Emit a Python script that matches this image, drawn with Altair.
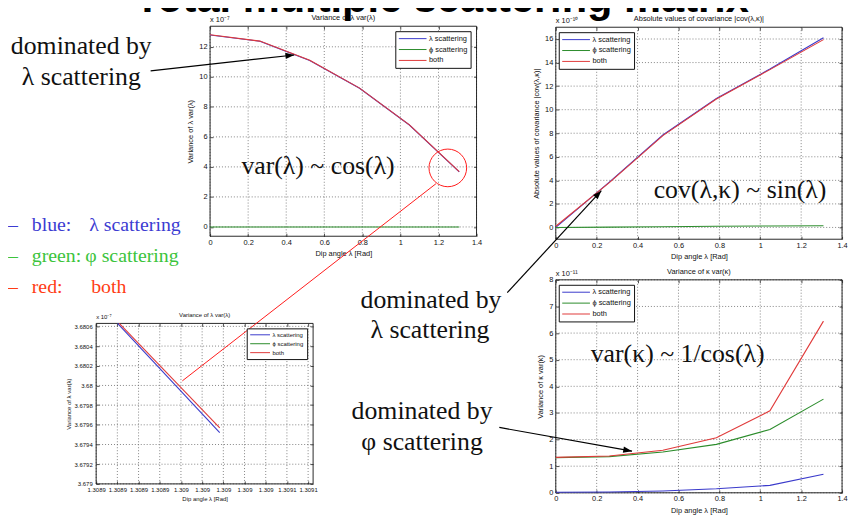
import math
import altair as alt
import pandas as pd

# ---------------- values ----------------
SERIES = ["λ scattering", "ϕ scattering", "both"]
SERIES_COLORS = ["#3a3acb", "#2b8c2b", "#e03a3a"]

DIP_ANGLE = [0.0, 0.2618, 0.5236, 0.7854, 1.0472, 1.3090]

VAR_LAMBDA_LAM = [12.79, 12.37, 11.09, 9.24, 6.79, 3.67]
VAR_LAMBDA_PHI = [0.0, 0.0, 0.0, 0.0, 0.0, 0.0]
VAR_LAMBDA_BOTH = [12.80, 12.38, 11.10, 9.25, 6.80, 3.68]

COV_LK_LAM = [0.00, 3.85, 7.85, 10.95, 13.45, 16.10]
COV_LK_PHI = [0.00, 0.03, 0.06, 0.10, 0.12, 0.15]
COV_LK_BOTH = [0.10, 3.80, 7.80, 10.90, 13.40, 15.95]

VAR_KAPPA_LAM = [0.02, 0.03, 0.07, 0.15, 0.28, 0.70]
VAR_KAPPA_PHI = [1.32, 1.36, 1.53, 1.82, 2.38, 3.52]
VAR_KAPPA_BOTH = [1.33, 1.38, 1.60, 2.07, 3.08, 6.45]

# zoomed view of var(lambda) near the last dip angle
ZOOM_LAM_X = [1.3089002, 1.3089966]
ZOOM_LAM_Y = [3.68063, 3.67952]
ZOOM_BOTH_X = [1.3089018, 1.3089966]
ZOOM_BOTH_Y = [3.68063, 3.67957]

# axis limits and tick values
DIP_LIM = [0.0, 1.4]
DIP_TICKS = [0, 0.2, 0.4, 0.6, 0.8, 1.0, 1.2, 1.4]
VAR_LAMBDA_LIM = [-0.62, 13.37]
VAR_LAMBDA_TICKS = [0, 2, 4, 6, 8, 10, 12]
COV_LIM = [-1.0, 17.0]
COV_TICKS = [0, 2, 4, 6, 8, 10, 12, 14, 16]
VAR_KAPPA_LIM = [0.0, 8.0]
VAR_KAPPA_TICKS = [0, 1, 2, 3, 4, 5, 6, 7, 8]
ZOOM_X_LIM = [1.30888, 1.3090847]
ZOOM_X_TICKS = [1.30888, 1.30890, 1.30892, 1.30894, 1.30896, 1.30898,
                1.30900, 1.30902, 1.30904, 1.30906, 1.30908]
ZOOM_Y_LIM = [3.6790, 3.68063]
ZOOM_Y_TICKS = [3.6790, 3.6792, 3.6794, 3.6796, 3.6798, 3.6800,
                3.6802, 3.6804, 3.6806]

# slide text
TITLE = "Total multiple scattering matrix"
NOTE_TEXT = ["dominated by", "λ scattering", "dominated by", "λ scattering",
             "dominated by", "φ scattering", "var(λ) ~ cos(λ)",
             "cov(λ,κ) ~ sin(λ)", "var(κ) ~ 1/cos(λ)"]
KEY_TEXT = ["–", "blue:", "λ scattering", "–", "green:", "φ scattering",
            "–", "red:", "both"]

# ---------------- layout / style (pixels on the slide canvas) ----------------
W, H = 849, 509
FONT = "Liberation Sans"
SERIF = "Liberation Serif"

NOTE_X = [74, 74, 427, 426, 418, 418, 313, 739, 676]
NOTE_Y = [44, 75, 300, 331, 412, 444, 165, 189, 355]
KEY_X = [0, 24, 82, 0, 24, 78, 0, 24, 84]
KEY_Y = [223, 223, 223, 254, 254, 254, 285, 285, 285]
KEY_COLOR = ["#3c3cd2"] * 3 + ["#3cc43c"] * 3 + ["#ff3c14"] * 3

ARROW_FROM_X = [144, 504, 496]
ARROW_FROM_Y = [61, 285, 421]
ARROW_TO_X = [289, 599, 630]
ARROW_TO_Y = [45, 182, 445]


def series_frame(xvals, yvals, name):
    return pd.DataFrame({"x": xvals, "y": yvals, "series": name})


def panel(lines, xlim, ylim, xpx, ypx, xticks, yticks, xfmt, yfmt, title,
          ytitle, expo, legend_at, fs, sym, clip_h, lab_pad, title_pad):
    x0, x1 = xpx
    yb, yt = ypx
    xs = alt.Scale(domain=xlim, range=[x0, x1], nice=False, zero=False)
    ys = alt.Scale(domain=ylim, range=[yb, yt], nice=False, zero=False)
    common = dict(tickSize=3, tickColor="#222", tickWidth=0.8, domain=False,
                  grid=False, labelFont=FONT, labelFontSize=fs,
                  labelColor="#111", titleFont=FONT, titleFontSize=fs,
                  titleFontWeight="normal", titleColor="#111")
    ax_bottom = alt.Axis(orient="bottom", offset=(yb - 3) - H, values=xticks,
                         format=xfmt, labelPadding=lab_pad,
                         titlePadding=title_pad, title="Dip angle λ [Rad]",
                         labelFlush=False, labelOverlap=False, **common)
    ax_left = alt.Axis(orient="left", offset=-(x0 + 3), values=yticks,
                       format=yfmt, labelPadding=lab_pad + 1,
                       titlePadding=title_pad, title=ytitle,
                       labelOverlap=False, **common)
    ax_top = alt.Axis(orient="top", offset=-(yt + 3), values=xticks,
                      labels=False, title=None, **common)
    ax_right = alt.Axis(orient="right", offset=(x1 - 3) - W, values=yticks,
                        labels=False, title=None, **common)

    frame_df = pd.DataFrame({"xa": [xlim[0]], "xb": [xlim[1]],
                             "ya": [ylim[0]], "yb": [ylim[1]]})
    frame = alt.Chart(frame_df).mark_rect(
        fillOpacity=0, stroke="#111", strokeWidth=0.9
    ).encode(
        x=alt.X("xa:Q", scale=xs, axis=ax_top), x2="xb:Q",
        y=alt.Y("ya:Q", scale=ys, axis=ax_right), y2="yb:Q",
    )

    vg = pd.DataFrame({"t": xticks, "lo": ylim[0], "hi": ylim[1]})
    vgrid = alt.Chart(vg).mark_rule(
        strokeDash=[1, 2], color="#666", strokeWidth=0.8
    ).encode(
        x=alt.X("t:Q", scale=xs, axis=None),
        y=alt.Y("lo:Q", scale=ys, axis=None), y2="hi:Q",
    )
    hg = pd.DataFrame({"t": yticks, "lo": xlim[0], "hi": xlim[1]})
    hgrid = alt.Chart(hg).mark_rule(
        strokeDash=[1, 2], color="#666", strokeWidth=0.8
    ).encode(
        y=alt.Y("t:Q", scale=ys, axis=None),
        x=alt.X("lo:Q", scale=xs, axis=None), x2="hi:Q",
    )

    legend = alt.Legend(
        orient="none", legendX=legend_at[0], legendY=legend_at[1], title=None,
        symbolType="stroke", symbolSize=sym * sym, symbolStrokeWidth=1,
        labelFont=FONT, labelFontSize=fs, labelColor="#111", labelOffset=2,
        padding=3, rowPadding=2, strokeColor="#111", fillColor="white",
        cornerRadius=0, clipHeight=clip_h,
    )
    color = alt.Color("series:N",
                      scale=alt.Scale(domain=SERIES, range=SERIES_COLORS),
                      legend=legend)
    line_layers = []
    for i, df in enumerate(lines):
        line_layers.append(
            alt.Chart(df).mark_line(strokeWidth=1.1).encode(
                x=alt.X("x:Q", scale=xs, axis=ax_bottom if i == 0 else None),
                y=alt.Y("y:Q", scale=ys, axis=ax_left if i == 0 else None),
                color=color,
            )
        )

    lab_df = pd.DataFrame({"x": [(xlim[0] + xlim[1]) / 2], "y": [ylim[1]],
                           "t": [title]})
    title_mark = alt.Chart(lab_df).mark_text(
        font=FONT, fontSize=fs, color="#111", align="center",
        baseline="alphabetic", dy=-6,
    ).encode(x=alt.X("x:Q", scale=xs, axis=None),
             y=alt.Y("y:Q", scale=ys, axis=None), text="t:N")
    exp_df = pd.DataFrame({"x": [xlim[0]], "y": [ylim[1]], "t": [expo]})
    expo_mark = alt.Chart(exp_df).mark_text(
        font=FONT, fontSize=fs, color="#111", align="left",
        baseline="alphabetic", dy=-4,
    ).encode(x=alt.X("x:Q", scale=xs, axis=None),
             y=alt.Y("y:Q", scale=ys, axis=None), text="t:N")

    return alt.layer(hgrid, vgrid, frame, *line_layers, title_mark,
                     expo_mark).resolve_axis(x="independent", y="independent")


p1 = panel(
    [series_frame(DIP_ANGLE, VAR_LAMBDA_LAM, SERIES[0]),
     series_frame(DIP_ANGLE, VAR_LAMBDA_PHI, SERIES[1]),
     series_frame(DIP_ANGLE, VAR_LAMBDA_BOTH, SERIES[2])],
    DIP_LIM, VAR_LAMBDA_LIM, [204, 473], [228, 16], DIP_TICKS,
    VAR_LAMBDA_TICKS, "~g", "~g", "Variance of λ var(λ)",
    "Variance of λ var(λ)", "x 10⁻⁷", (391, 21), 7.5, 28, 9, 2, 4)

p2 = panel(
    [series_frame(DIP_ANGLE, COV_LK_LAM, SERIES[0]),
     series_frame(DIP_ANGLE, COV_LK_PHI, SERIES[1]),
     series_frame(DIP_ANGLE, COV_LK_BOTH, SERIES[2])],
    DIP_LIM, COV_LIM, [553, 842], [231, 17], DIP_TICKS, COV_TICKS, "~g",
    "~g", "Absolute values of covariance |cov(λ,κ)|",
    "Absolute values of covariance |cov(λ,κ)|", "x 10⁻¹⁰", (556, 22),
    7.5, 28, 9, 2, 4)

p3 = panel(
    [series_frame(DIP_ANGLE, VAR_KAPPA_LAM, SERIES[0]),
     series_frame(DIP_ANGLE, VAR_KAPPA_PHI, SERIES[1]),
     series_frame(DIP_ANGLE, VAR_KAPPA_BOTH, SERIES[2])],
    DIP_LIM, VAR_KAPPA_LIM, [553, 842], [487, 272], DIP_TICKS,
    VAR_KAPPA_TICKS, "~g", "~g", "Variance of κ var(κ)",
    "Variance of κ var(κ)", "x 10⁻¹¹", (556, 277), 7.5, 28, 9, 2, 4)

p4 = panel(
    [series_frame(ZOOM_LAM_X, ZOOM_LAM_Y, SERIES[0]),
     series_frame(ZOOM_BOTH_X, ZOOM_BOTH_Y, SERIES[2])],
    ZOOM_X_LIM, ZOOM_Y_LIM, [89, 308], [478, 316], ZOOM_X_TICKS,
    ZOOM_Y_TICKS, ".5~g", "~g", "Variance of λ var(λ)",
    "Variance of λ var(λ)", "x 10⁻⁷", (241, 321), 6, 20, 7, 3, 3)

# ---------------- slide annotations (pixel positions) ----------------
px = dict(scale=None, axis=None)

title_df = pd.DataFrame({"t": [TITLE], "x": [438], "y": [2]})
title = alt.Chart(title_df).mark_text(
    font=FONT, fontWeight="bold", fontSize=42, color="#000",
    align="center", baseline="alphabetic",
).encode(x=alt.X("x:Q", **px), y=alt.Y("y:Q", **px), text="t:N")

notes_df = pd.DataFrame({"t": NOTE_TEXT, "x": NOTE_X, "y": NOTE_Y})
notes = alt.Chart(notes_df).mark_text(
    font=SERIF, fontSize=26, color="#111", align="center",
    baseline="alphabetic",
).encode(x=alt.X("x:Q", **px), y=alt.Y("y:Q", **px), text="t:N")

key_df = pd.DataFrame({"t": KEY_TEXT, "x": KEY_X, "y": KEY_Y, "c": KEY_COLOR})
key = alt.Chart(key_df).mark_text(
    font=SERIF, fontSize=20, align="left", baseline="alphabetic",
).encode(x=alt.X("x:Q", **px), y=alt.Y("y:Q", **px), text="t:N",
         color=alt.Color("c:N", scale=None))

arrow_df = pd.DataFrame({
    "x": ARROW_FROM_X, "y": ARROW_FROM_Y, "x2": ARROW_TO_X, "y2": ARROW_TO_Y,
    "ang": [(math.degrees(math.atan2(ty - fy, tx - fx)) + 360) % 360
            for fx, fy, tx, ty in zip(ARROW_FROM_X, ARROW_FROM_Y,
                                      ARROW_TO_X, ARROW_TO_Y)],
})
shafts = alt.Chart(arrow_df).mark_rule(color="#000", strokeWidth=1.2).encode(
    x=alt.X("x:Q", **px), y=alt.Y("y:Q", **px), x2="x2:Q", y2="y2:Q")
heads = alt.Chart(arrow_df).mark_point(
    shape="M0,0L-1.7,-0.6L-1.7,0.6Z", filled=True, size=110, color="#000",
    opacity=1,
).encode(x=alt.X("x2:Q", **px), y=alt.Y("y2:Q", **px),
         angle=alt.Angle("ang:Q", scale=None))

link_df = pd.DataFrame({"x": [432], "y": [175], "x2": [176], "y2": [374]})
link = alt.Chart(link_df).mark_rule(color="#ff1a1a", strokeWidth=1).encode(
    x=alt.X("x:Q", **px), y=alt.Y("y:Q", **px), x2="x2:Q", y2="y2:Q")
ring_df = pd.DataFrame({"x": [444], "y": [159]})
ring = alt.Chart(ring_df).mark_point(
    shape="circle", size=1444, filled=False, color="#ff1a1a", strokeWidth=1,
    opacity=1,
).encode(x=alt.X("x:Q", **px), y=alt.Y("y:Q", **px))

chart = alt.layer(
    p1, p2, p3, p4, title, notes, key, link, ring, shafts, heads
).resolve_scale(
    x="independent", y="independent", color="independent"
).properties(
    width=W, height=H, autosize=alt.AutoSizeParams(type="none"), padding=0,
    background="white",
).configure_view(stroke=None)

chart.save("out.html", embed_options={"renderer": "svg", "actions": False})
